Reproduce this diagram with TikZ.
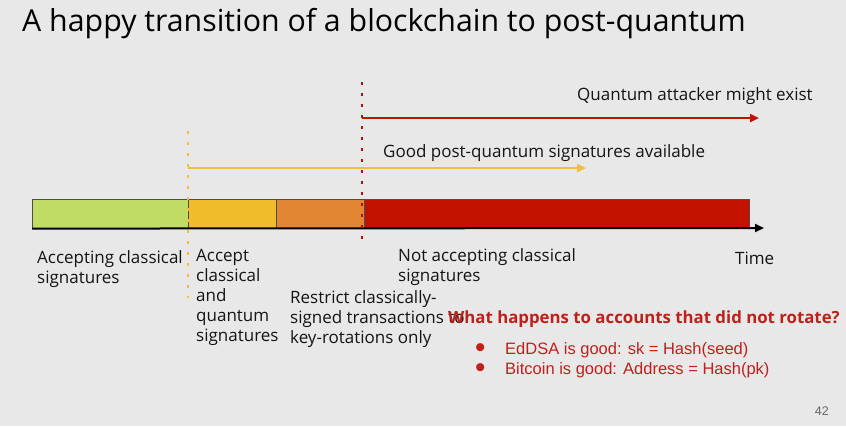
\documentclass[tikz,border=0pt]{standalone}
\usepackage{fontspec}
\setmainfont{Open Sans}
\newfontfamily\arialfont{Liberation Sans}
\usetikzlibrary{arrows.meta}
\definecolor{slidebg}{HTML}{E8E8E8}
\definecolor{inkblack}{HTML}{141414}
\definecolor{phasegreen}{HTML}{C0DC64}
\definecolor{phaseyellow}{HTML}{F0BC2C}
\definecolor{phaseorange}{HTML}{E38632}
\definecolor{phasered}{HTML}{C41200}
\definecolor{dotred}{HTML}{B01010}
\definecolor{dotyellow}{HTML}{F0BE40}
\definecolor{notered}{HTML}{C0201A}
\newcommand{\bulletmark}{\makebox[30pt][l]{\smash{\raisebox{-3.5pt}{\scalebox{1.8}{\textbullet}}}}}
\tikzset{
  phase/.style={draw=black!70, line width=0.6pt, inner sep=0pt, minimum height=29pt, anchor=north west},
  % text blocks: the first baseline lies 14pt below the node's top
  label/.style={inner sep=0pt, anchor=north west, align=left, text=inkblack,
    font=\fontsize{17}{20}\selectfont, execute at begin node={\rule{0pt}{14pt}}},
  marker/.style={line width=2.6pt, dash pattern=on 2.6pt off 8.4pt},
  timearrow/.style={line width=2.6pt, -{Triangle[length=9pt,width=8pt]}},
}
\begin{document}
\begin{tikzpicture}[x=1pt,y=-1pt]
\useasboundingbox[fill=slidebg] (0,0) rectangle (846,426);

% title
\node[inner sep=0pt, anchor=base west, text=black, font=\fontsize{30.3}{36}\selectfont] (title) at (22,31)
  {A happy transition of a blockchain to post-quantum};

% phases of the time line
\node[phase, fill=phasegreen,  minimum width=156pt] (green)  at (32,199)  {};
\node[phase, fill=phaseyellow, minimum width=88pt]  (yellow) at (188,199) {};
\node[phase, fill=phaseorange, minimum width=88pt]  (orange) at (276,199) {};
\node[phase, fill=phasered,    minimum width=385pt] (red)    at (364,199) {};

% time axis
\coordinate (timeend) at (764,228);
\draw[line width=2pt, -{Triangle[length=9pt,width=8pt]}] (green.south west) -- (timeend);

% event markers
\coordinate (ytop) at (188,131);
\coordinate (ybot) at (188,298);
\coordinate (rtop) at (362,82);
\coordinate (rbot) at (362,244);
\draw[marker, dotyellow] (ytop) -- (ybot);
\draw[marker, dotred] (rtop) -- (rbot);

% availability arrows
\coordinate (ystart) at (188,168);
\coordinate (yend) at (586,168);
\coordinate (rstart) at (362,118);
\coordinate (rend) at (759,118);
\draw[timearrow, dotyellow] (ystart) -- (yend);
\draw[timearrow, phasered] (rstart) -- (rend);

\node[label] (attacker) at (577,86) {Quantum attacker might exist};
\node[label] (goodpq) at (383,143) {Good post-quantum signatures available};

% phase labels
\node[label] (l1) at (37,250) {Accepting classical\\signatures};
\node[label] (l2) at (196,249) {Accept\\classical\\and\\quantum\\signatures};
\node[label] (l3) at (290,290) {Restrict classically-\\signed transactions to\\key-rotations only};
\node[label] (l4) at (398,248) {Not accepting classical\\signatures};
\node[label] (time) at (735,250) {Time};

% question
\node[inner sep=0pt, anchor=base west, text=notered, font=\fontsize{16.8}{20}\selectfont\bfseries] (question) at (448,323)
  {What happens to accounts that did not rotate?};
\node[inner sep=0pt, anchor=north west, text=notered, align=left,
      font=\arialfont\fontsize{16.5}{20}\selectfont] (bullets) at (475,340)
  {\rule{0pt}{14pt}\bulletmark EdDSA is good: sk = Hash(seed)\\
   \bulletmark Bitcoin is good: Address = Hash(pk)};

\node[inner sep=0pt, anchor=base east, text=black!60, font=\arialfont\fontsize{12.5}{14}\selectfont] (pagenum) at (829,415)
  {42};
\end{tikzpicture}
\end{document}
